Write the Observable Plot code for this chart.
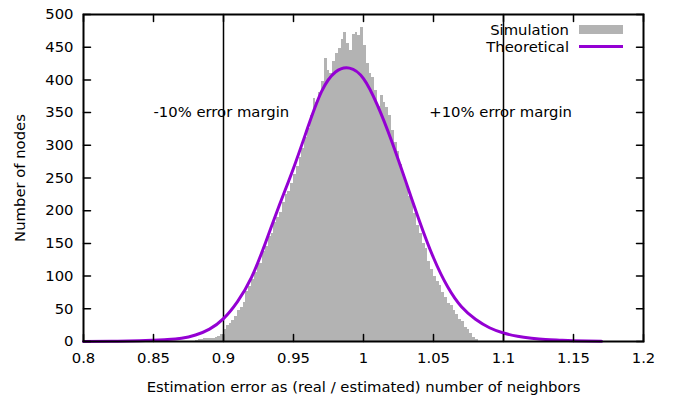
<!DOCTYPE html>
<html>
<head>
<meta charset="utf-8">
<script src="https://cdn.jsdelivr.net/npm/d3@7"></script>
<script src="https://cdn.jsdelivr.net/npm/@observablehq/plot@0.6"></script>
<style>
  html, body { margin: 0; padding: 0; background: #fff; }
  #chart { width: 678px; height: 397px; }
</style>
</head>
<body>
<div id="chart"></div>
<script>
// ---- data ----
const binStart = 0.880;
const binWidth = 0.002;
const simCounts = [
  2, 3, 3, 4, 4, 5, 5, 6, 7, 10,
  18, 24, 27, 32, 38, 47, 52, 60, 76, 84,
  95, 106, 118, 120, 138, 145, 160, 165, 182, 190,
  198, 212, 225, 230, 242, 255, 268, 282, 295, 312,
  325, 345, 372, 365, 380, 398, 432, 415, 410, 428,
  440, 448, 462, 472, 455, 445, 470, 472, 468, 480,
  452, 425, 410, 404, 384, 360, 376, 365, 358, 345,
  322, 305, 290, 270, 255, 240, 222, 212, 195, 178,
  165, 150, 142, 122, 110, 100, 92, 85, 75, 68,
  58, 55, 47, 42, 34, 30, 22, 18, 12, 6, 3
];
const theoX = [0.80, 0.82, 0.84, 0.85, 0.86, 0.87, 0.88, 0.89, 0.90, 0.91, 0.92, 0.93, 0.94, 0.95, 0.96, 0.97, 0.98, 0.99, 1.00, 1.01, 1.02, 1.03, 1.04, 1.05, 1.06, 1.07, 1.08, 1.09, 1.10, 1.11, 1.12, 1.13, 1.14, 1.15, 1.17];
const theoY = [0.1, 0.4, 1.2, 2, 3, 5, 10, 19, 35, 61, 98, 151, 209, 265, 326, 382, 412, 418, 402, 361, 307, 246, 184, 128, 84, 53, 34, 21, 13, 8, 5, 3, 2, 1.2, 0.5];
const marginLines = [0.9, 1.1];
const marginLabels = ["-10% error margin", "+10% error margin"];
const marginLabelX = [0.85, 1.047];
const marginLabelY = [350, 350];
const xTicks = [0.8, 0.85, 0.9, 0.95, 1, 1.05, 1.1, 1.15, 1.2];
const yTicks = [0, 50, 100, 150, 200, 250, 300, 350, 400, 450, 500];
const seriesNames = ["Simulation", "Theoretical"];
const simColor = "#b3b3b3";
const theoColor = "#9400d3";

// ---- tables built from the arrays ----
const bins = simCounts.map((c, i) => ({x1: binStart + i * binWidth, x2: binStart + (i + 1) * binWidth, y: c}));
const curve = theoX.map((x, i) => ({x, y: theoY[i]}));
const labels = marginLabels.map((t, i) => ({text: t, x: marginLabelX[i], y: marginLabelY[i]}));

const W = 678, H = 397, mL = 83, mR = 35, mT = 14, mB = 56;
const FS = 14.8;
const fmt = d3.format("~g");
const TK = 7;

// inward tick marks: spike-shaped vectors of fixed pixel length anchored on the frame edges
const tickOpts = {length: TK, anchor: "start", shape: "spike", r: 0, stroke: "black", strokeWidth: 1.5, fill: "none"};

const chart = Plot.plot({
  width: W, height: H,
  marginLeft: mL, marginRight: mR, marginTop: mT, marginBottom: mB,
  x: {domain: [0.8, 1.2]},
  y: {domain: [0, 500]},
  style: {fontFamily: "DejaVu Sans", fontSize: FS + "px", color: "black", background: "white", overflow: "visible"},
  marks: [
    Plot.rect(bins, {x1: "x1", x2: "x2", y1: 0, y2: "y", fill: simColor, shapeRendering: "crispEdges"}),
    Plot.ruleX(marginLines, {stroke: "black", strokeWidth: 1.5}),
    Plot.text(labels, {x: "x", y: "y", text: "text", textAnchor: "start", fontSize: FS, fill: "black"}),
    Plot.line(curve, {x: "x", y: "y", stroke: theoColor, strokeWidth: 3, curve: "natural"}),
    Plot.frame({stroke: "black", strokeWidth: 2}),
    Plot.vector(xTicks, {x: d => d, frameAnchor: "bottom", rotate: 0, ...tickOpts}),
    Plot.vector(xTicks, {x: d => d, frameAnchor: "top", rotate: 180, ...tickOpts}),
    Plot.vector(yTicks, {y: d => d, frameAnchor: "left", rotate: 90, ...tickOpts}),
    Plot.vector(yTicks, {y: d => d, frameAnchor: "right", rotate: -90, ...tickOpts}),
    Plot.axisX(xTicks, {anchor: "bottom", tickSize: 0, tickPadding: 11, tickFormat: fmt,
      label: "Estimation error as (real / estimated) number of neighbors", labelAnchor: "center", labelOffset: 50, labelArrow: "none"}),
    Plot.axisY(yTicks, {anchor: "left", tickSize: 0, tickPadding: 10,
      label: "Number of nodes", labelAnchor: "center", labelOffset: 69, labelArrow: "none"})
  ]
});

document.getElementById("chart").appendChild(chart);

// ---- legend (top-right, inside the frame) ----
const svgSel = d3.select(chart);
const frameRight = W - mR;
const lg = svgSel.append("g").attr("font-family", "DejaVu Sans").attr("font-size", FS);
const rows = [
  {name: seriesNames[0], y: mT + 16},
  {name: seriesNames[1], y: mT + 33}
];
lg.selectAll("text").data(rows).join("text")
  .attr("x", frameRight - 74).attr("y", d => d.y)
  .attr("text-anchor", "end").attr("dy", "0.35em").attr("fill", "black")
  .text(d => d.name);
lg.append("rect").attr("x", frameRight - 64).attr("y", rows[0].y - 5).attr("width", 44).attr("height", 9).attr("fill", simColor);
lg.append("line").attr("x1", frameRight - 64).attr("x2", frameRight - 20).attr("y1", rows[1].y - 0.5).attr("y2", rows[1].y - 0.5)
  .attr("stroke", theoColor).attr("stroke-width", 3);
</script>
</body>
</html>
